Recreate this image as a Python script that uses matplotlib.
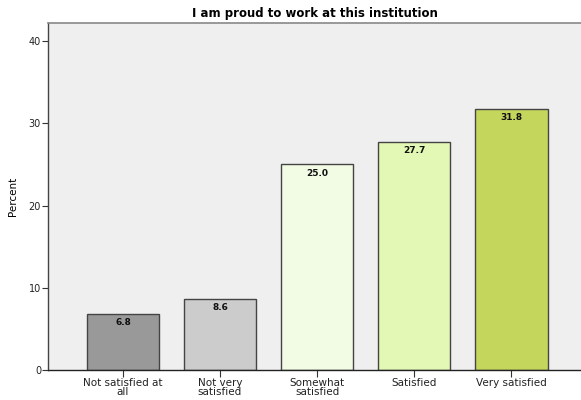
import matplotlib
matplotlib.use("Agg")
import matplotlib.pyplot as plt

categories = ["Not satisfied at\nall", "Not very\nsatisfied", "Somewhat\nsatisfied",
              "Satisfied", "Very satisfied"]
percents = [6.8, 8.6, 25.0, 27.7, 31.8]
bar_colors = ["#999999", "#cccccc", "#f2fbe3", "#e3f8b4", "#c5d65d"]
yticks = [0, 10, 20, 30, 40]

plt.rcParams["font.family"] = "DejaVu Sans"

fig = plt.figure(figsize=(5.81, 4.0), dpi=100)
ax = fig.add_axes([48 / 581, 30 / 400, 1 - 48 / 581, 347 / 400])
ax.set_facecolor("#efefef")

x = range(len(categories))
bars = ax.bar(x, percents, width=0.75, color=bar_colors,
              edgecolor="#444444", linewidth=1.0, zorder=2)
for rect, v in zip(bars, percents):
    ax.annotate(f"{v:.1f}", (rect.get_x() + rect.get_width() / 2, v),
                xytext=(0, -3), textcoords="offset points",
                ha="center", va="top", fontsize=6.5, fontweight="bold",
                color="#111111", zorder=3)

ax.set_xlim(-0.773, 4.72)
ax.set_ylim(0, 42.2)
ax.set_xticks(list(x))
ax.set_xticklabels(categories, fontsize=7.5, linespacing=0.85, color="#222222")
ax.set_yticks(yticks)
ax.set_yticklabels([str(t) for t in yticks], fontsize=7, color="#222222")
ax.tick_params(axis="y", direction="out", length=4, width=0.8, pad=1, color="#333333")
ax.tick_params(axis="x", direction="out", length=5, width=0.8, pad=1, color="#333333")

ax.spines["right"].set_visible(False)
ax.spines["top"].set_color("#888888")
ax.spines["top"].set_linewidth(1.2)
ax.spines["left"].set_color("#444444")
ax.spines["bottom"].set_color("#222222")
ax.spines["left"].set_linewidth(1.0)
ax.spines["bottom"].set_linewidth(1.0)

ax.set_ylabel("Percent", fontsize=7.5, labelpad=8)
ax.set_title("I am proud to work at this institution", fontsize=8.5,
             fontweight="bold", pad=4)

fig.savefig("out.png", dpi=100)
